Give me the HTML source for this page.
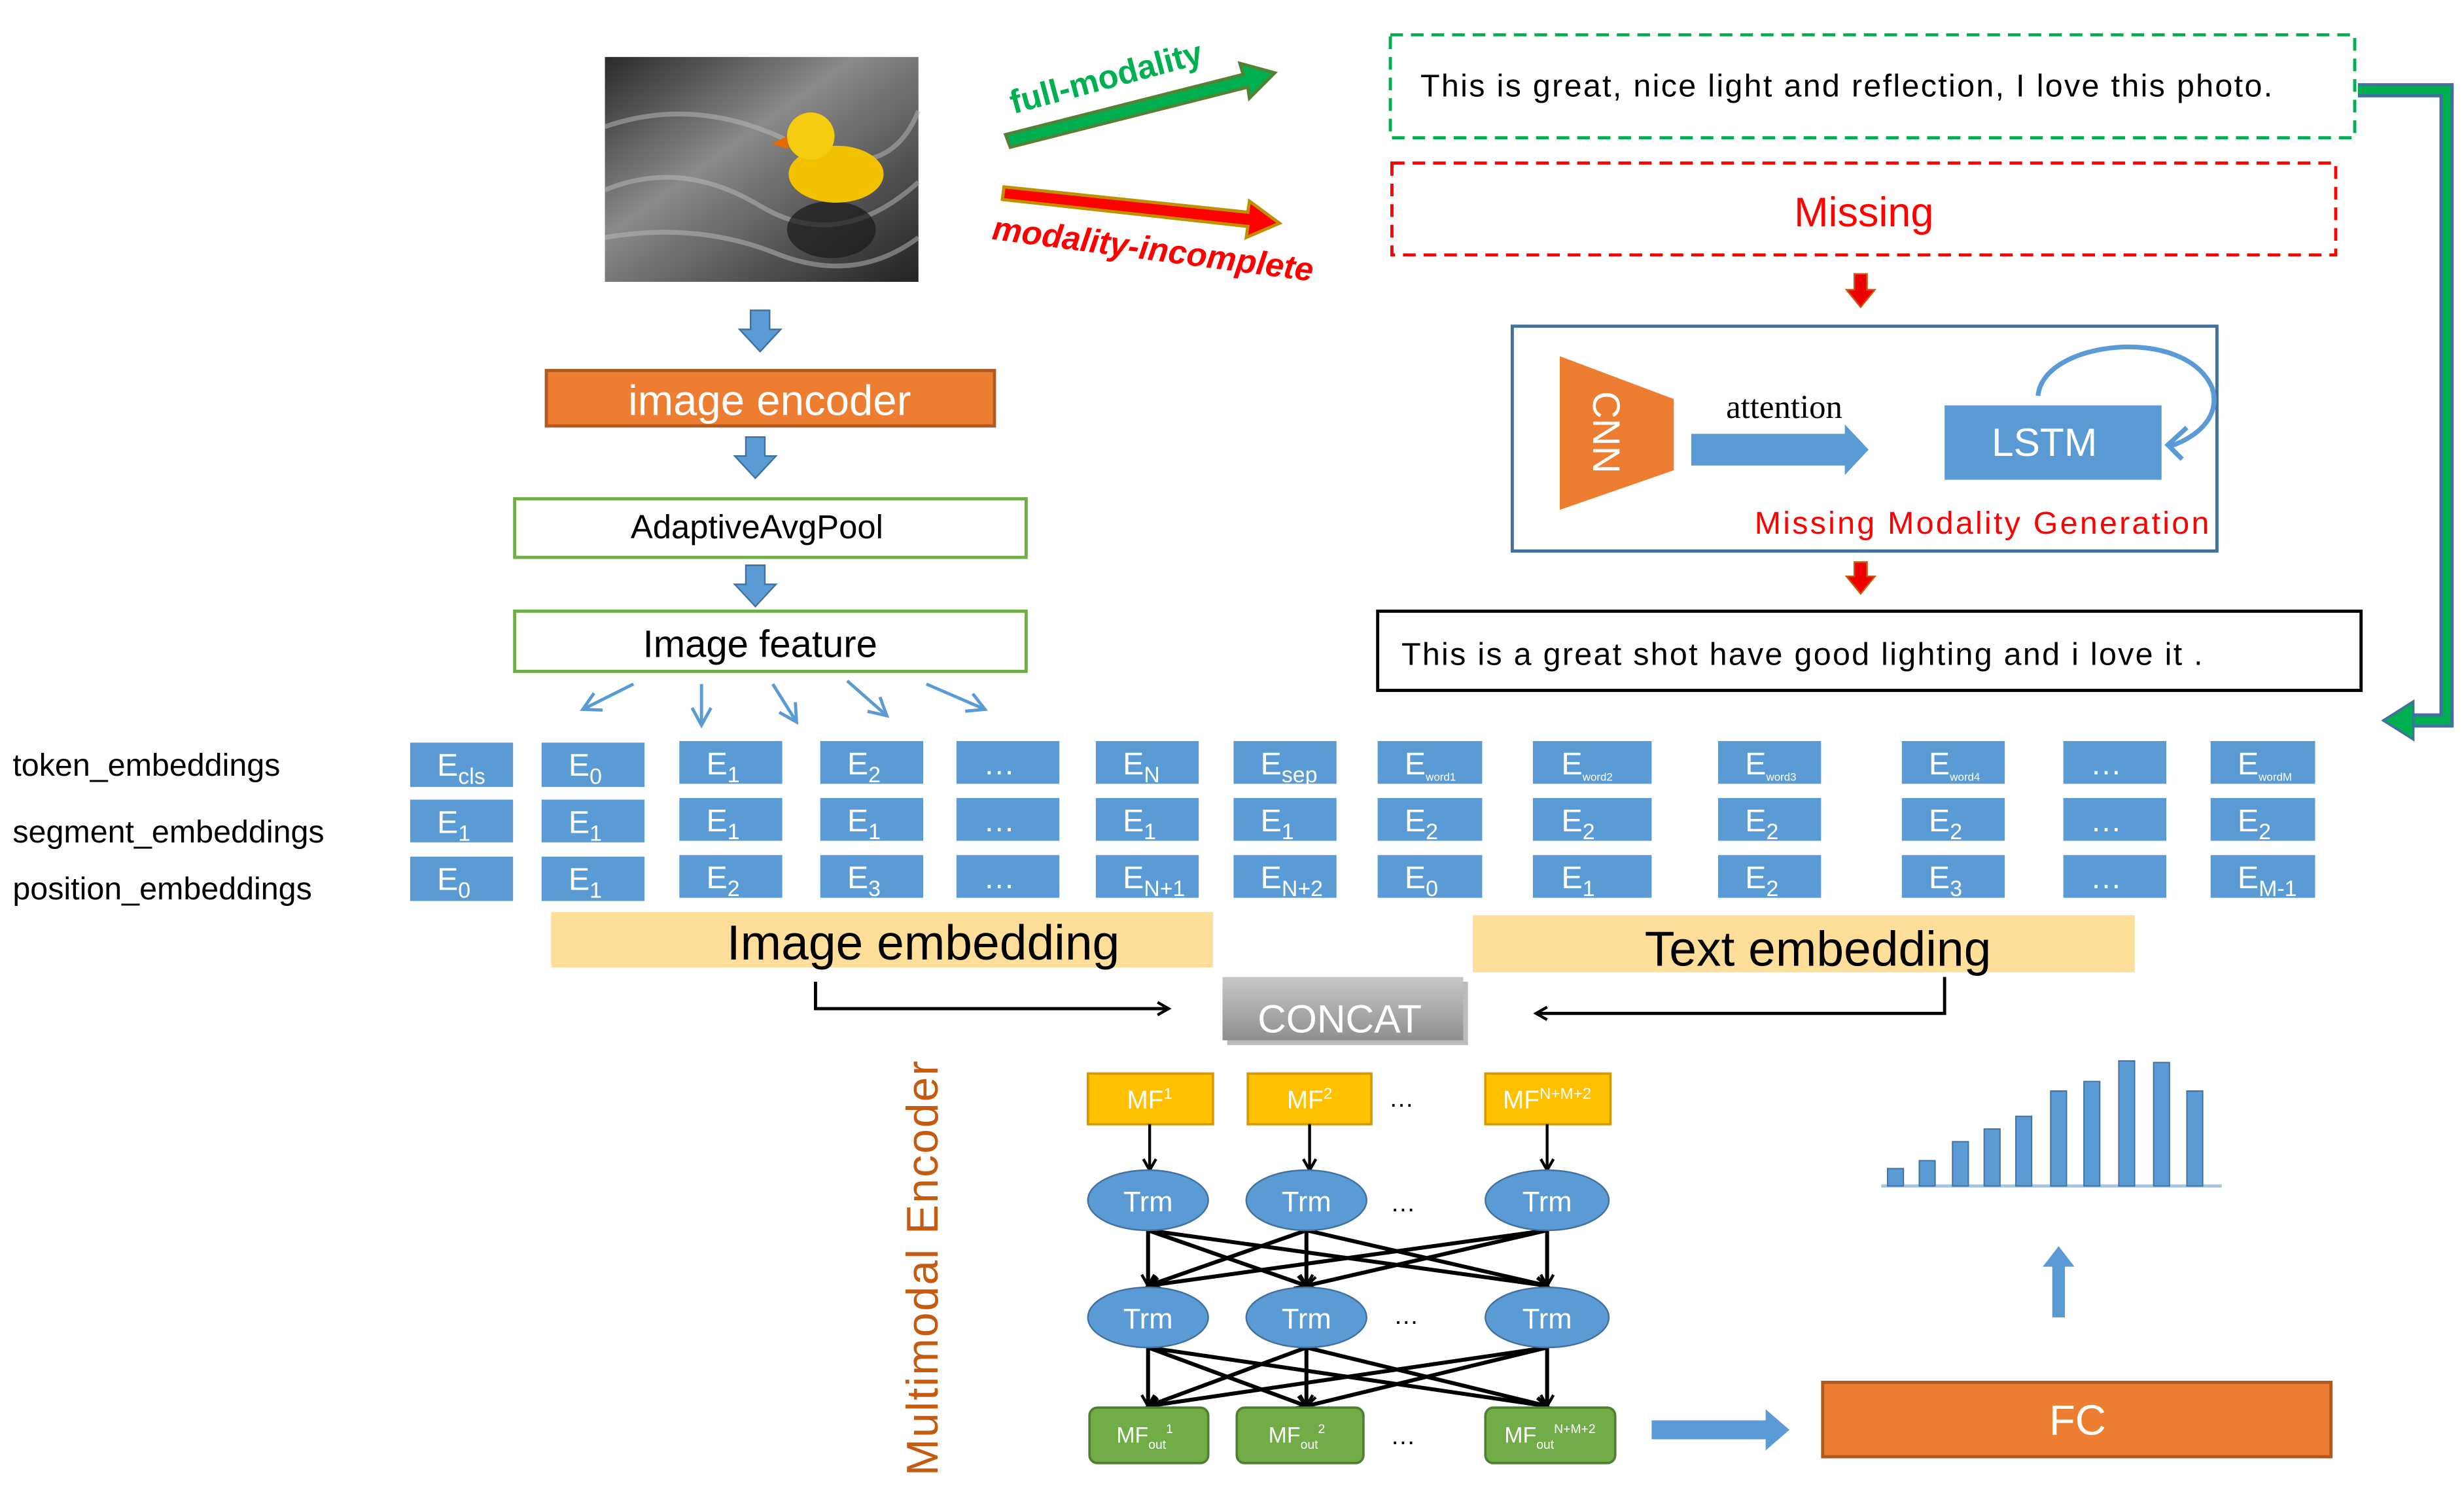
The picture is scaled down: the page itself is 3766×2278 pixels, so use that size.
<!DOCTYPE html>
<html><head><meta charset="utf-8"><style>
html,body{margin:0;padding:0;background:#fff;}
svg{display:block;}
text{font-family:"Liberation Sans",sans-serif;}
</style></head><body>
<svg width="3766" height="2278" viewBox="0 0 1556 941" preserveAspectRatio="none" xmlns="http://www.w3.org/2000/svg">
<defs>
<linearGradient id="ph" x1="0" y1="0" x2="1" y2="1">
<stop offset="0" stop-color="#2a2a2a"/><stop offset="0.4" stop-color="#8a8a8a"/><stop offset="0.7" stop-color="#555"/><stop offset="1" stop-color="#222"/></linearGradient>
<linearGradient id="cc" x1="0" y1="0" x2="0" y2="1"><stop offset="0" stop-color="#c8c8c8"/><stop offset="1" stop-color="#8f8f8f"/></linearGradient>
<marker id="ah" markerWidth="10" markerHeight="10" refX="8" refY="5" orient="auto" markerUnits="userSpaceOnUse"><path d="M1,1 L8,5 L1,9" fill="none" stroke="#000" stroke-width="1.8"/></marker>
<marker id="bh" markerWidth="14" markerHeight="14" refX="12" refY="7" orient="auto" markerUnits="userSpaceOnUse"><path d="M1,1 L12,7 L1,13" fill="none" stroke="#5b9bd5" stroke-width="2"/></marker>
</defs>
<!-- photo -->
<rect x="382" y="36" width="198" height="142" fill="url(#ph)"/>
<path d="M382,80 Q440,60 500,90 T580,70 M382,120 Q430,100 480,130 T580,115 M382,150 Q440,140 490,160 T580,150" stroke="#bbb" stroke-width="3" fill="none" opacity="0.5"/>
<ellipse cx="525" cy="145" rx="28" ry="18" fill="#1a1a1a" opacity="0.7"/>
<ellipse cx="528" cy="110" rx="30" ry="18" fill="#f2c200"/>
<circle cx="512" cy="86" r="15" fill="#f5cc10"/>
<path d="M497,86 L487,91 L498,94Z" fill="#e66a00"/>
<!-- blue down arrows -->
<g fill="#5b9bd5" stroke="#41719c" stroke-width="1">
<path d="M474,196 h12 v12 h7 l-13,14 l-13,-14 h7z"/>
<path d="M471,276 h12 v12 h7 l-13,14 l-13,-14 h7z"/>
<path d="M471,357 h12 v12 h7 l-13,14 l-13,-14 h7z"/>
</g>
<rect x="345" y="234" width="283" height="35" fill="#ed7d31" stroke="#ae5a21" stroke-width="2"/>
<text x="486" y="262" font-size="27" fill="#fff" text-anchor="middle">image encoder</text>
<rect x="325" y="315" width="323" height="37" fill="#fff" stroke="#70ad47" stroke-width="2"/>
<text x="478" y="340" font-size="21" text-anchor="middle">AdaptiveAvgPool</text>
<rect x="325" y="386" width="323" height="38" fill="#fff" stroke="#70ad47" stroke-width="2"/>
<text x="480" y="415" font-size="24" text-anchor="middle">Image feature</text>
<g stroke="#5b9bd5" stroke-width="2" marker-end="url(#bh)">
<line x1="400" y1="432" x2="368" y2="448"/>
<line x1="443" y1="432" x2="443" y2="458"/>
<line x1="488" y1="432" x2="503" y2="456"/>
<line x1="535" y1="430" x2="560" y2="452"/>
<line x1="585" y1="432" x2="622" y2="448"/>
</g>
<!-- modality arrows -->
<path d="M635,85 L785,47 L783,40 L805,46 L789,62 L788,55 L638,93Z" fill="#00b050" stroke="#548235" stroke-width="2"/>
<text transform="translate(640,72) rotate(-15)" font-size="21" font-weight="bold" fill="#00b050">full-modality</text>
<path d="M634,118 L788,134 L789,127 L808,141 L787,150 L788,143 L633,126Z" fill="#f00" stroke="#bf9000" stroke-width="2"/>
<text transform="translate(626,151) rotate(7.5)" font-size="21" font-weight="bold" font-style="italic" fill="#f00">modality-incomplete</text>
<!-- text boxes -->
<rect x="878" y="22" width="609" height="65" fill="none" stroke="#00b050" stroke-width="2" stroke-dasharray="8,5"/>
<text x="897" y="61" font-size="20" textLength="538">This is great, nice light and reflection, I love this photo.</text>
<rect x="879" y="103" width="596" height="58" fill="none" stroke="#f00" stroke-width="2" stroke-dasharray="8,5"/>
<text x="1177" y="143" font-size="26" fill="#f00" text-anchor="middle">Missing</text>
<g fill="#e00" stroke="#c55a11" stroke-width="1">
<path d="M1171,173 h8 v10 h5 l-9,11 l-9,-11 h5z"/>
<path d="M1171,355 h8 v9 h5 l-9,11 l-9,-11 h5z"/>
</g>
<rect x="955" y="206" width="445" height="142" fill="#fff" stroke="#41719c" stroke-width="2"/>
<path d="M985,225 L1057,252 L1057,297 L985,322Z" fill="#ed7d31"/>
<text transform="translate(1006,273) rotate(90)" font-size="24" fill="#fff" text-anchor="middle">CNN</text>
<text x="1090" y="264" font-size="21" style="font-family:'Liberation Serif',serif">attention</text>
<path d="M1068,279 h97 v-6 l15,16 l-15,16 v-6 h-97z" transform="translate(0,-5)" fill="#5b9bd5"/>
<rect x="1228" y="256" width="137" height="47" fill="#5b9bd5"/>
<text x="1291" y="288" font-size="25" fill="#fff" text-anchor="middle">LSTM</text>
<path d="M1287,250 C1290,215 1380,205 1397,245 C1402,262 1390,275 1370,282" fill="none" stroke="#5b9bd5" stroke-width="3"/>
<path d="M1381,270 L1369,281 L1378,290" fill="none" stroke="#5b9bd5" stroke-width="3"/>
<text x="1108" y="337" font-size="20" fill="#f00" textLength="287">Missing Modality Generation</text>
<rect x="870" y="386" width="621" height="50" fill="#fff" stroke="#000" stroke-width="2"/>
<text x="885" y="420" font-size="20" textLength="506">This is a great shot have good lighting  and i love it .</text>
<!-- right connector -->
<path d="M1489,57 H1545 V455 H1522" fill="none" stroke="#41719c" stroke-width="9"/>
<path d="M1489,57 H1545 V455 H1522" fill="none" stroke="#00b050" stroke-width="5"/>
<path d="M1524,443 L1505,455 L1524,467Z" fill="#00b050" stroke="#41719c" stroke-width="1.5"/>
<!-- embeddings labels -->
<g font-size="20">
<text x="8" y="490">token_embeddings</text>
<text x="8" y="532">segment_embeddings</text>
<text x="8" y="568">position_embeddings</text>
</g>
<g fill="#5b9bd5">
<rect x="259" y="469" width="65" height="28"/><rect x="342" y="469" width="65" height="28"/>
<rect x="429" y="468" width="65" height="27"/><rect x="518" y="468" width="65" height="27"/><rect x="604" y="468" width="65" height="27"/><rect x="692" y="468" width="65" height="27"/><rect x="779" y="468" width="65" height="27"/><rect x="870" y="468" width="66" height="27"/><rect x="968" y="468" width="75" height="27"/><rect x="1085" y="468" width="65" height="27"/><rect x="1201" y="468" width="65" height="27"/><rect x="1303" y="468" width="65" height="27"/><rect x="1396" y="468" width="66" height="27"/>
<rect x="259" y="505" width="65" height="27"/><rect x="342" y="505" width="65" height="27"/>
<rect x="429" y="504" width="65" height="27"/><rect x="518" y="504" width="65" height="27"/><rect x="604" y="504" width="65" height="27"/><rect x="692" y="504" width="65" height="27"/><rect x="779" y="504" width="65" height="27"/><rect x="870" y="504" width="66" height="27"/><rect x="968" y="504" width="75" height="27"/><rect x="1085" y="504" width="65" height="27"/><rect x="1201" y="504" width="65" height="27"/><rect x="1303" y="504" width="65" height="27"/><rect x="1396" y="504" width="66" height="27"/>
<rect x="259" y="541" width="65" height="28"/><rect x="342" y="541" width="65" height="28"/>
<rect x="429" y="540" width="65" height="27"/><rect x="518" y="540" width="65" height="27"/><rect x="604" y="540" width="65" height="27"/><rect x="692" y="540" width="65" height="27"/><rect x="779" y="540" width="65" height="27"/><rect x="870" y="540" width="66" height="27"/><rect x="968" y="540" width="75" height="27"/><rect x="1085" y="540" width="65" height="27"/><rect x="1201" y="540" width="65" height="27"/><rect x="1303" y="540" width="65" height="27"/><rect x="1396" y="540" width="66" height="27"/>
</g>
<g fill="#fff" font-size="20">
<text x="276" y="490">E<tspan font-size="14" dy="5">cls</tspan></text>
<text x="359" y="490">E<tspan font-size="14" dy="5">0</tspan></text>
<text x="446" y="489">E<tspan font-size="14" dy="5">1</tspan></text>
<text x="535" y="489">E<tspan font-size="14" dy="5">2</tspan></text>
<text x="621" y="489">…</text>
<text x="709" y="489">E<tspan font-size="14" dy="5">N</tspan></text>
<text x="796" y="489">E<tspan font-size="14" dy="5">sep</tspan></text>
<text x="887" y="489">E<tspan font-size="7" dy="4">word1</tspan></text>
<text x="986" y="489">E<tspan font-size="7" dy="4">word2</tspan></text>
<text x="1102" y="489">E<tspan font-size="7" dy="4">word3</tspan></text>
<text x="1218" y="489">E<tspan font-size="7" dy="4">word4</tspan></text>
<text x="1320" y="489">…</text>
<text x="1413" y="489">E<tspan font-size="7" dy="4">wordM</tspan></text>
<text x="276" y="526">E<tspan font-size="14" dy="5">1</tspan></text>
<text x="359" y="526">E<tspan font-size="14" dy="5">1</tspan></text>
<text x="446" y="525">E<tspan font-size="14" dy="5">1</tspan></text>
<text x="535" y="525">E<tspan font-size="14" dy="5">1</tspan></text>
<text x="621" y="525">…</text>
<text x="709" y="525">E<tspan font-size="14" dy="5">1</tspan></text>
<text x="796" y="525">E<tspan font-size="14" dy="5">1</tspan></text>
<text x="887" y="525">E<tspan font-size="14" dy="5">2</tspan></text>
<text x="986" y="525">E<tspan font-size="14" dy="5">2</tspan></text>
<text x="1102" y="525">E<tspan font-size="14" dy="5">2</tspan></text>
<text x="1218" y="525">E<tspan font-size="14" dy="5">2</tspan></text>
<text x="1320" y="525">…</text>
<text x="1413" y="525">E<tspan font-size="14" dy="5">2</tspan></text>
<text x="276" y="562">E<tspan font-size="14" dy="5">0</tspan></text>
<text x="359" y="562">E<tspan font-size="14" dy="5">1</tspan></text>
<text x="446" y="561">E<tspan font-size="14" dy="5">2</tspan></text>
<text x="535" y="561">E<tspan font-size="14" dy="5">3</tspan></text>
<text x="621" y="561">…</text>
<text x="709" y="561">E<tspan font-size="14" dy="5">N+1</tspan></text>
<text x="796" y="561">E<tspan font-size="14" dy="5">N+2</tspan></text>
<text x="887" y="561">E<tspan font-size="14" dy="5">0</tspan></text>
<text x="986" y="561">E<tspan font-size="14" dy="5">1</tspan></text>
<text x="1102" y="561">E<tspan font-size="14" dy="5">2</tspan></text>
<text x="1218" y="561">E<tspan font-size="14" dy="5">3</tspan></text>
<text x="1320" y="561">…</text>
<text x="1413" y="561">E<tspan font-size="14" dy="5">M-1</tspan></text>
</g>
<rect x="348" y="576" width="418" height="35" fill="#ffde9a"/>
<text x="583" y="606" font-size="31" text-anchor="middle">Image embedding</text>
<rect x="930" y="578" width="418" height="36" fill="#ffde9a"/>
<text x="1148" y="610" font-size="31" text-anchor="middle">Text embedding</text>
<path d="M515,620 V637 H738" fill="none" stroke="#000" stroke-width="2" marker-end="url(#ah)"/>
<path d="M1228,617 V640 H970" fill="none" stroke="#000" stroke-width="2" marker-end="url(#ah)"/>
<rect x="775" y="620" width="152" height="40" fill="#777" opacity="0.5"/>
<rect x="772" y="617" width="152" height="40" fill="url(#cc)"/>
<text x="846" y="652" font-size="25" fill="#fff" text-anchor="middle">CONCAT</text>
<text transform="translate(592,932) rotate(-90)" font-size="28" fill="#c55a11" textLength="262">Multimodal  Encoder</text>
<!-- encoder -->
<g fill="#ffc000" stroke="#d69a00" stroke-width="1.5">
<rect x="687" y="678" width="79" height="32"/><rect x="788" y="678" width="78" height="32"/><rect x="938" y="678" width="79" height="32"/>
</g>
<g fill="#fff" font-size="16" text-anchor="middle">
<text x="726" y="700">MF<tspan font-size="10" dy="-6">1</tspan></text>
<text x="827" y="700">MF<tspan font-size="10" dy="-6">2</tspan></text>
<text x="977" y="700">MF<tspan font-size="10" dy="-6">N+M+2</tspan></text>
</g>
<g stroke="#000" stroke-width="1.8" marker-end="url(#ah)">
<line x1="726" y1="710" x2="726" y2="739"/><line x1="827" y1="710" x2="827" y2="739"/><line x1="977" y1="710" x2="977" y2="739"/>
</g>
<g stroke="#000" stroke-width="2.5" marker-end="url(#ah)">
<line x1="725" y1="777" x2="725" y2="812"/><line x1="725" y1="777" x2="825" y2="812"/><line x1="725" y1="777" x2="977" y2="812"/>
<line x1="825" y1="777" x2="725" y2="812"/><line x1="825" y1="777" x2="825" y2="812"/><line x1="825" y1="777" x2="977" y2="812"/>
<line x1="977" y1="777" x2="725" y2="812"/><line x1="977" y1="777" x2="825" y2="812"/><line x1="977" y1="777" x2="977" y2="812"/>
<line x1="725" y1="851" x2="725" y2="888"/><line x1="725" y1="851" x2="825" y2="888"/><line x1="725" y1="851" x2="977" y2="888"/>
<line x1="825" y1="851" x2="725" y2="888"/><line x1="825" y1="851" x2="825" y2="888"/><line x1="825" y1="851" x2="977" y2="888"/>
<line x1="977" y1="851" x2="725" y2="888"/><line x1="977" y1="851" x2="825" y2="888"/><line x1="977" y1="851" x2="977" y2="888"/>
</g>
<g fill="#5b9bd5" stroke="#41719c" stroke-width="1">
<ellipse cx="725" cy="758" rx="38" ry="19"/><ellipse cx="825" cy="758" rx="38" ry="19"/><ellipse cx="977" cy="758" rx="39" ry="19"/>
<ellipse cx="725" cy="832" rx="38" ry="19"/><ellipse cx="825" cy="832" rx="38" ry="19"/><ellipse cx="977" cy="832" rx="39" ry="19"/>
</g>
<g fill="#fff" font-size="18" text-anchor="middle">
<text x="725" y="765">Trm</text><text x="825" y="765">Trm</text><text x="977" y="765">Trm</text>
<text x="725" y="839">Trm</text><text x="825" y="839">Trm</text><text x="977" y="839">Trm</text>
</g>
<g fill="#70ad47" stroke="#507e32" stroke-width="1.5">
<rect x="688" y="889" width="75" height="35" rx="5"/><rect x="781" y="889" width="80" height="35" rx="5"/><rect x="938" y="889" width="82" height="35" rx="5"/>
</g>
<g fill="#fff" font-size="14">
<text x="705" y="911">MF<tspan font-size="8" dy="4">out</tspan><tspan font-size="8" dy="-10">1</tspan></text>
<text x="801" y="911">MF<tspan font-size="8" dy="4">out</tspan><tspan font-size="8" dy="-10">2</tspan></text>
<text x="950" y="911">MF<tspan font-size="8" dy="4">out</tspan><tspan font-size="8" dy="-10">N+M+2</tspan></text>
</g>
<g font-size="16" text-anchor="middle">
<text x="885" y="699">…</text><text x="886" y="765">…</text><text x="888" y="836">…</text><text x="886" y="912">…</text>
</g>
<path d="M1043,897 h72 v-7 l15,13 l-15,13 v-7 h-72z" fill="#5b9bd5"/>
<rect x="1151" y="873" width="321" height="47" fill="#ed7d31" stroke="#ae5a21" stroke-width="2"/>
<text x="1312" y="906" font-size="27" fill="#fff" text-anchor="middle">FC</text>
<path d="M1296,832 v-32 h-6 l10,-13 l10,13 h-6 v32z" fill="#5b9bd5"/>
<!-- bar chart -->
<line x1="1188" y1="749" x2="1403" y2="749" stroke="#a5c4e6" stroke-width="2"/>
<g fill="#5b9bd5" stroke="#41719c" stroke-width="0.8">
<rect x="1192" y="738" width="10" height="11"/><rect x="1212" y="733" width="10" height="16"/><rect x="1233" y="721" width="10" height="28"/><rect x="1253" y="713" width="10" height="36"/><rect x="1273" y="705" width="10" height="44"/><rect x="1295" y="689" width="10" height="60"/><rect x="1316" y="683" width="10" height="66"/><rect x="1338" y="670" width="10" height="79"/><rect x="1360" y="671" width="10" height="78"/><rect x="1381" y="689" width="10" height="60"/>
</g>
</svg>
</body></html>
